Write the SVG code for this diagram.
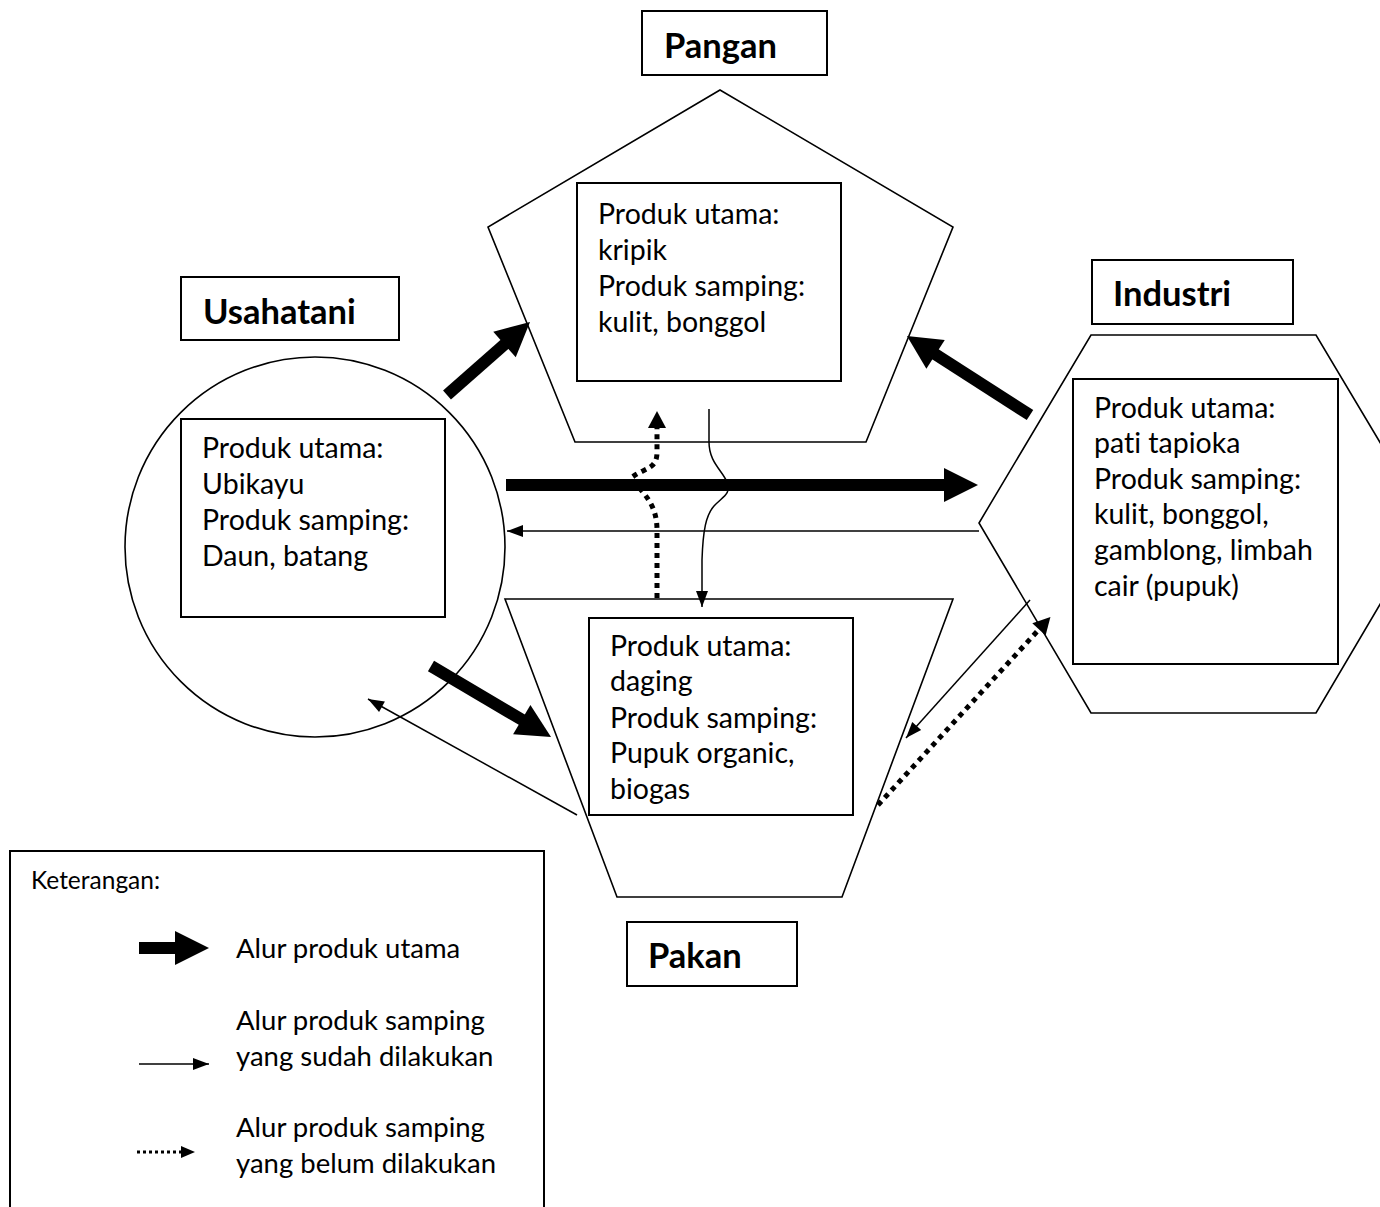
<svg xmlns="http://www.w3.org/2000/svg" width="1380" height="1207" viewBox="0 0 1380 1207">
<style>
text{font-variant-ligatures:none}
.shape{fill:none;stroke:#000;stroke-width:1.6}
.box{fill:#fff;stroke:#000;stroke-width:2}
.t{font-family:Lato,"Liberation Sans",sans-serif;font-size:28.5px;fill:#000}
.lg{font-family:Lato,"Liberation Sans",sans-serif;font-size:27.5px;fill:#000}
.lbl{font-family:Lato,"Liberation Sans",sans-serif;font-size:34.5px;font-weight:bold;fill:#000}
.small{font-family:Lato,"Liberation Sans",sans-serif;font-size:24.5px;fill:#000}
.thick{stroke:#000;stroke-width:12;fill:none;marker-end:url(#mThick)}
.thin{stroke:#000;stroke-width:1.5;fill:none;marker-end:url(#mThin)}
.dot{stroke:#000;stroke-width:5;stroke-dasharray:5 5;fill:none;marker-end:url(#mDot)}
</style>
<defs>
<marker id="mThick" markerUnits="userSpaceOnUse" markerWidth="36" markerHeight="34" refX="4" refY="17" orient="auto" overflow="visible"><path d="M0,0 L34,17 L0,34 z" fill="#000"/></marker>
<marker id="mThin" markerUnits="userSpaceOnUse" markerWidth="17" markerHeight="12" refX="16" refY="6" orient="auto" overflow="visible"><path d="M0,0 L16,6 L0,12 z" fill="#000"/></marker>
<marker id="mDot" markerUnits="userSpaceOnUse" markerWidth="18" markerHeight="18" refX="6" refY="9" orient="auto" overflow="visible"><path d="M0,0 L17,9 L0,18 z" fill="#000"/></marker>
<marker id="mDotS" markerUnits="userSpaceOnUse" markerWidth="15" markerHeight="12" refX="3" refY="6" orient="auto" overflow="visible"><path d="M0,0 L14,6 L0,12 z" fill="#000"/></marker>
</defs>
<rect width="1380" height="1207" fill="#fff"/>

<g id="pangan">
<rect class="box" x="642" y="11" width="185" height="64"/>
<text class="lbl" x="664" y="58">Pangan</text>
<polygon class="shape" points="720,90 953,227 866,442 575,442 488,227"/>
<rect class="box" x="577" y="183" width="264" height="198"/>
<text class="t" x="598" y="224">Produk utama:</text>
<text class="t" x="598" y="260">kripik</text>
<text class="t" x="598" y="296">Produk samping:</text>
<text class="t" x="598" y="332">kulit, bonggol</text>
</g>

<g id="usahatani">
<rect class="box" x="181" y="277" width="218" height="63"/>
<text class="lbl" x="203" y="324">Usahatani</text>
<circle class="shape" cx="315" cy="547" r="190"/>
<rect class="box" x="181" y="419" width="264" height="198"/>
<text class="t" x="202" y="458">Produk utama:</text>
<text class="t" x="202" y="494">Ubikayu</text>
<text class="t" x="202" y="530">Produk samping:</text>
<text class="t" x="202" y="566">Daun, batang</text>
</g>

<g id="industri">
<rect class="box" x="1092" y="260" width="201" height="64"/>
<text class="lbl" x="1113" y="306">Industri</text>
<polygon class="shape" points="1091,335 1316,335 1428,523 1316,713 1091,713 979,523"/>
<rect class="box" x="1073" y="379" width="265" height="285"/>
<text class="t" x="1094" y="418">Produk utama:</text>
<text class="t" x="1094" y="453">pati tapioka</text>
<text class="t" x="1094" y="489">Produk samping:</text>
<text class="t" x="1094" y="524">kulit, bonggol,</text>
<text class="t" x="1094" y="560">gamblong, limbah</text>
<text class="t" x="1094" y="596">cair (pupuk)</text>
</g>

<g id="pakan">
<polygon class="shape" points="505,599 953,599 842,897 617,897"/>
<rect class="box" x="589" y="618" width="264" height="197"/>
<text class="t" x="610" y="656">Produk utama:</text>
<text class="t" x="610" y="691">daging</text>
<text class="t" x="610" y="728">Produk samping:</text>
<text class="t" x="610" y="763">Pupuk organic,</text>
<text class="t" x="610" y="799">biogas</text>
<rect class="box" x="627" y="922" width="170" height="64"/>
<text class="lbl" x="648" y="968">Pakan</text>
</g>

<g id="connectors">
<line class="thick" x1="447" y1="395" x2="507.5" y2="341.8"/>
<line class="thick" x1="1030" y1="415" x2="932.2" y2="352.2"/>
<line class="thick" x1="506" y1="485" x2="948" y2="485"/>
<line class="thick" x1="431" y1="666" x2="525.2" y2="721.7"/>
<line class="thin" x1="979" y1="531" x2="507" y2="531"/>
<line class="thin" x1="577" y1="815" x2="368" y2="699"/>
<line class="thin" x1="1030" y1="600" x2="906" y2="738"/>
<path class="thin" d="M709,409 L709,442 C709,462 722,470 727,482 C732,494 722,497 714,506 C706,515 703,530 702,560 L702,607"/>
<path class="dot" d="M657,598 L657,530 C657,505 645,495 631,478 C645,467 657,470 657,452 L657,422"/>
<line class="dot" x1="878" y1="805" x2="1043" y2="625"/>
</g>

<g id="legend">
<rect class="box" x="10" y="851" width="534" height="380"/>
<text class="small" x="31" y="889">Keterangan:</text>
<line stroke="#000" stroke-width="12" marker-end="url(#mThick)" x1="139" y1="948" x2="179" y2="948"/>
<text class="lg" x="236" y="958">Alur produk utama</text>
<line class="thin" x1="139" y1="1064" x2="209" y2="1064"/>
<text class="lg" x="236" y="1030">Alur produk samping</text>
<text class="lg" x="236" y="1066">yang sudah dilakukan</text>
<line stroke="#000" stroke-width="3" stroke-dasharray="3 3" marker-end="url(#mDotS)" x1="137" y1="1152" x2="184" y2="1152"/>
<text class="lg" x="236" y="1137">Alur produk samping</text>
<text class="lg" x="236" y="1173">yang belum dilakukan</text>
</g>
</svg>
